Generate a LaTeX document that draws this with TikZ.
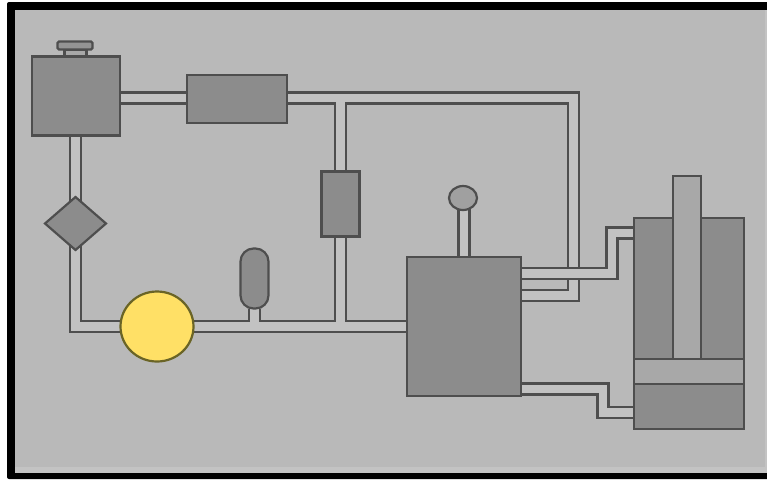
\documentclass[tikz,border=0pt]{standalone}
\usetikzlibrary{shapes.geometric,backgrounds}
\definecolor{bggrey}{HTML}{B9B9B9}
\definecolor{bgedge}{HTML}{C3C3C3}
\definecolor{partfill}{HTML}{8C8C8C}
\definecolor{lightpart}{HTML}{A8A8A8}
\definecolor{partline}{HTML}{4E4E4E}
\definecolor{pipecore}{HTML}{C2C2C2}
\definecolor{pumpfill}{HTML}{FFE066}
\definecolor{pumpline}{HTML}{6A6426}
\newcommand{\pipenet}[1]{\draw[pipeout] #1; \draw[pipein] #1;}
\tikzset{
  part/.style={draw=partline,fill=partfill,line width=2.2pt,inner sep=0pt,outer sep=0pt,rectangle},
  lightbox/.style={part,fill=lightpart},
  pipeout/.style={draw=partline,line width=13.4pt,line join=miter,line cap=butt},
  pipein/.style={draw=pipecore,line width=8.8pt,line join=miter,line cap=butt}
}
\begin{document}
\begin{tikzpicture}[x=1pt,y=-1pt]
\useasboundingbox (0,0) rectangle (767,480);
% parts
\node[part,minimum width=88pt,minimum height=79pt] (tank) at (76,96) {};
\node[lightbox,minimum width=22pt,minimum height=7pt] (neck) at (75.5,53) {};
\node[lightbox,fill=partfill!70!lightpart,minimum width=35pt,minimum height=8pt,rounded corners=1.5pt] (plate) at (75,45.5) {};
\node[part,minimum width=100pt,minimum height=48pt] (filter) at (237,99) {};
\node[part,minimum width=38pt,minimum height=65pt] (valve) at (340.5,204) {};
\node[part,diamond,minimum width=61pt,minimum height=53pt,shape aspect=1.15] (check) at (75.5,223.5) {};
\node[draw=pumpline,fill=pumpfill,line width=2.2pt,ellipse,inner sep=0pt,outer sep=0pt,minimum width=73pt,minimum height=70pt] (pump) at (157,326.5) {};
\node[part,minimum width=28pt,minimum height=60pt,rounded corners=13pt] (accu) at (254.5,278.5) {};
\node[part,minimum width=114pt,minimum height=139pt] (block) at (464,326.5) {};
\node[part,ellipse,fill=lightpart!70!partfill,minimum width=28pt,minimum height=24pt] (knob) at (463,198) {};
\node[part,minimum width=110pt,minimum height=211pt] (cyl) at (689,323.5) {};
\node[lightbox,minimum width=110pt,minimum height=25pt] (piston) at (689,371.5) {};
\node[lightbox,minimum width=28pt,minimum height=183pt] (rod) at (687,267.5) {};
% frame and pipes
\begin{pgfonlayer}{background}
  \fill[white] (0,0) rectangle (767,480);
  \fill[black,rounded corners=2pt] (7,2) rectangle (790,479);
  \fill[bgedge] (15,10) rectangle (767,473);
  \fill[bggrey] (15,10) rectangle (765,467);
  \pipenet{(tank.east |- 0,98) -- (filter.west |- 0,98)}
  \pipenet{(filter.east |- 0,98) -- (573.5,98) -- (573.5,295.5) -- (block.east |- 0,295.5)
           (valve.north |- 0,98) -- (valve.north)}
  \pipenet{(valve.south) -- (valve.south |- pump.center)
           (pump.center) -- (block.center)
           (accu.south) -- (accu.south |- pump.center)}
  \pipenet{(tank.south -| check.center) -- (check.center)}
  \pipenet{(check.center) -- (check.center |- pump.center) -- (pump.center)}
  \pipenet{(block.north) -- (block.north |- knob.center)}
  \pipenet{(block.east |- 0,273.5) -- (612,273.5) -- (612,233) -- (cyl.west |- 0,233)}
  \pipenet{(block.east |- 0,389) -- (603,389) -- (603,412.5) -- (cyl.west |- 0,412.5)}
\end{pgfonlayer}
\end{tikzpicture}
\end{document}
